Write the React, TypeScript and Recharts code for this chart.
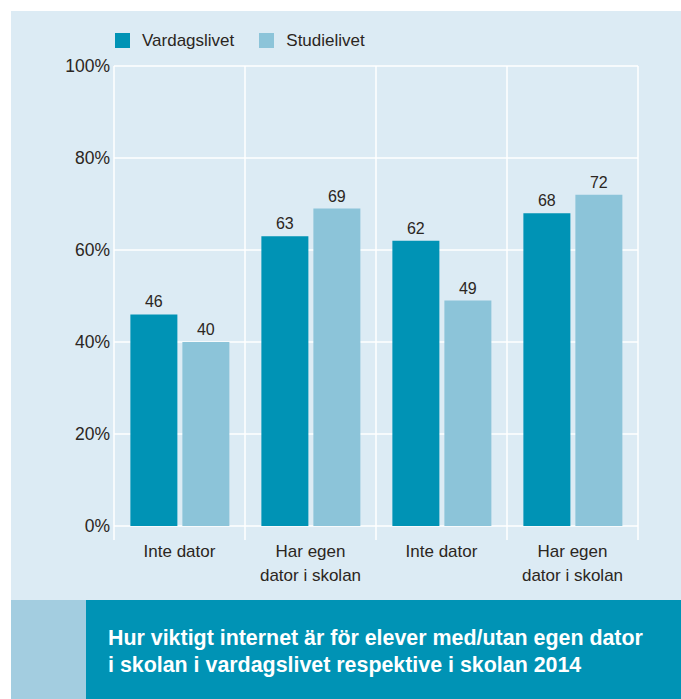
import React from 'react';
import { BarChart, Bar, XAxis, YAxis, CartesianGrid, LabelList } from 'recharts';

const categories = ['Inte dator', 'Har egen\ndator i skolan', 'Inte dator', 'Har egen\ndator i skolan'];
const vardagslivet = [46, 63, 62, 68];
const studielivet = [40, 69, 49, 72];
const yTicks = [0, 20, 40, 60, 80, 100];
const seriesNames = ['Vardagslivet', 'Studielivet'];
const titleLines = [
  'Hur viktigt internet är för elever med/utan egen dator',
  'i skolan i vardagslivet respektive i skolan 2014',
];

const DARK = '#0093b5';
const LIGHT = '#8cc4d9';
const PANEL = '#dcebf4';
const TEXT = '#2b2622';
const FONT = '"Liberation Sans", Arial, Helvetica, sans-serif';

const W = 681;
const CHART_H = 600;
const MARGIN = { top: 66, right: 43, bottom: 14, left: 0 };
const Y_AXIS_W = 114;
const BAND = (W - MARGIN.left - MARGIN.right - Y_AXIS_W) / categories.length;

const data = categories.map((name, i) => ({
  name,
  vardagslivet: vardagslivet[i],
  studielivet: studielivet[i],
}));

const CategoryTick = (props: any) => {
  const { x, y, payload, index } = props;
  const lines = String(payload.value).split('\n');
  const last = index === categories.length - 1;
  return (
    <g>
      <line x1={x - BAND / 2} x2={x - BAND / 2} y1={y} y2={y + 14} stroke="#fff" strokeWidth={1.5} />
      {last && <line x1={x + BAND / 2} x2={x + BAND / 2} y1={y} y2={y + 14} stroke="#fff" strokeWidth={1.5} />}
      <text x={x} y={y} textAnchor="middle" fill={TEXT} fontSize={17} fontFamily={FONT}>
        {lines.map((l, i) => (
          <tspan key={i} x={x} dy={i === 0 ? 31 : 24}>{l}</tspan>
        ))}
      </text>
    </g>
  );
};

export default function App() {
  return (
    <div style={{ position: 'absolute', left: 0, top: 0, width: W, height: 699, background: '#fff', fontFamily: FONT }}>
      <div style={{ position: 'absolute', left: 11, top: 11, width: W - 11, height: CHART_H - 11, background: PANEL }} />

      <div style={{ position: 'absolute', left: 115, top: 33, display: 'flex', alignItems: 'center', color: TEXT, fontSize: 17 }}>
        {seriesNames.map((n, i) => (
          <div key={n} style={{ display: 'flex', alignItems: 'center', marginRight: 25 }}>
            <span style={{ width: 15, height: 15, background: i === 0 ? DARK : LIGHT, marginRight: 12, display: 'inline-block' }} />
            <span style={{ lineHeight: '15px' }}>{n}</span>
          </div>
        ))}
      </div>

      <div style={{ position: 'absolute', left: 0, top: 0 }}>
        <BarChart width={W} height={CHART_H} data={data} margin={MARGIN} barCategoryGap="12.5%" barGap={5}>
          <CartesianGrid
            stroke="#fff"
            strokeWidth={1.5}
            verticalCoordinatesGenerator={({ offset }: any) =>
              categories.map((_, i) => offset.left + (i * offset.width) / categories.length).concat(offset.left + offset.width)
            }
          />
          <XAxis
            dataKey="name"
            axisLine={false}
            tickLine={false}
            tickSize={0}
            tickMargin={0}
            height={60}
            interval={0}
            tick={<CategoryTick />}
          />
          <YAxis
            width={Y_AXIS_W}
            domain={[0, 100]}
            ticks={yTicks}
            axisLine={false}
            tickLine={false}
            tickSize={0}
            tickMargin={4}
            tickFormatter={(v: number) => `${v}%`}
            tick={{ fill: TEXT, fontSize: 17.5, fontFamily: FONT }}
          />
          <Bar dataKey="vardagslivet" fill={DARK} isAnimationActive={false}>
            <LabelList dataKey="vardagslivet" position="top" offset={7} fill={TEXT} fontSize={16} fontFamily={FONT} />
          </Bar>
          <Bar dataKey="studielivet" fill={LIGHT} isAnimationActive={false}>
            <LabelList dataKey="studielivet" position="top" offset={7} fill={TEXT} fontSize={16} fontFamily={FONT} />
          </Bar>
        </BarChart>
      </div>

      <div style={{ position: 'absolute', left: 11, top: CHART_H, width: 75, height: 99, background: '#a3cde0' }} />
      <div style={{ position: 'absolute', left: 86, top: CHART_H, width: W - 86, height: 99, background: DARK }}>
        <div style={{ position: 'absolute', left: 22, top: 25, color: '#fff', fontWeight: 'bold', fontSize: 21.4, lineHeight: '27px', whiteSpace: 'nowrap' }}>
          {titleLines.map((l) => (
            <div key={l}>{l}</div>
          ))}
        </div>
      </div>
    </div>
  );
}
